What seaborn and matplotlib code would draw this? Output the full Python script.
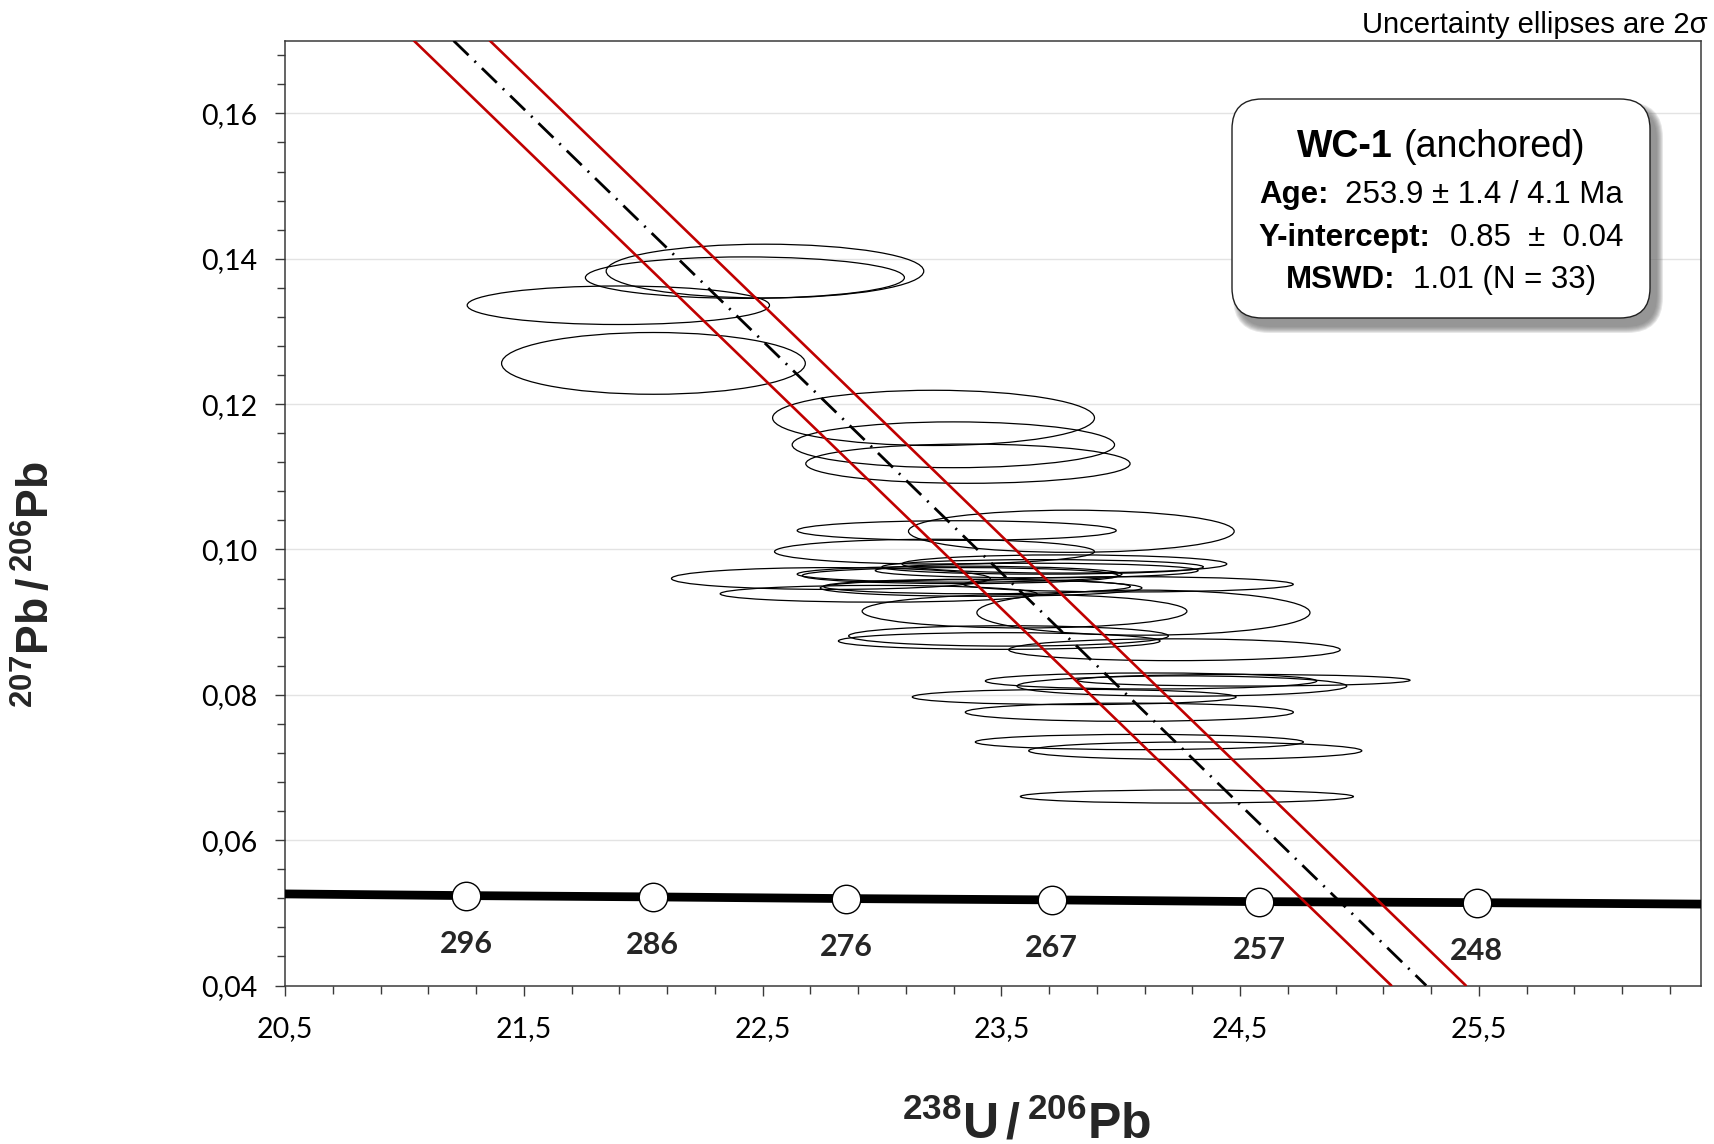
import numpy as np
import pandas as pd
import matplotlib
matplotlib.use("Agg")
import matplotlib.pyplot as plt
import seaborn as sns
from matplotlib.patches import Ellipse, FancyBboxPatch
from matplotlib.transforms import IdentityTransform
from matplotlib.offsetbox import TextArea, HPacker, AnnotationBbox
from matplotlib.ticker import FixedLocator, FixedFormatter

# ---------------- data ----------------
# uncertainty ellipses (2 sigma): centre x, centre y, full width (x), full height (y)
ell_x = [22.510, 22.426, 21.896, 22.043, 23.216, 23.299, 23.360, 23.313, 23.793, 23.220,
         22.786, 22.986, 23.325, 23.328, 23.415, 23.398, 23.648, 23.673, 23.764, 24.032,
         23.597, 24.095, 23.530, 23.491,
         24.225, 24.127, 24.514, 24.256, 23.805, 24.036, 24.078, 24.312, 24.277]
ell_y = [0.1383, 0.1374, 0.1336, 0.1256, 0.1181, 0.1144, 0.1118, 0.1026, 0.1025, 0.0997,
         0.0960, 0.0939, 0.0966, 0.0964, 0.0947, 0.0949, 0.0971, 0.0976, 0.0980, 0.0952,
         0.0915, 0.0913, 0.0881, 0.0874,
         0.0862, 0.0819, 0.0820, 0.0812, 0.0797, 0.0776, 0.0735, 0.0723, 0.0660]
ell_w = [1.330, 1.336, 1.266, 1.272, 1.348, 1.350, 1.358, 1.336, 1.364, 1.340,
         1.335, 1.327, 1.360, 1.324, 1.347, 1.285, 1.352, 1.346, 1.360, 1.381,
         1.360, 1.395, 1.339, 1.347,
         1.388, 1.388, 1.395, 1.381, 1.356, 1.374, 1.374, 1.395, 1.395]
ell_h = [0.0074, 0.0057, 0.0053, 0.0085, 0.0076, 0.0063, 0.0054, 0.0027, 0.0058, 0.0034,
         0.0030, 0.0023, 0.0022, 0.0022, 0.0023, 0.0020, 0.0020, 0.0020, 0.0025, 0.0021,
         0.0046, 0.0062, 0.0028, 0.0023,
         0.0030, 0.0022, 0.0016, 0.0028, 0.0021, 0.0025, 0.0021, 0.0024, 0.0018]

# concordia curve and age markers (Ma)
conc_x = [20.50, 21.26, 22.04, 22.85, 23.71, 24.58, 25.49, 26.43]
conc_y = [0.0526, 0.05237, 0.05219, 0.05196, 0.05178, 0.05154, 0.0514, 0.0512]
age_labels = ["296", "286", "276", "267", "257", "248"]
age_x = [21.26, 22.04, 22.85, 23.71, 24.58, 25.49]
age_y = [0.05237, 0.05219, 0.05196, 0.05178, 0.05154, 0.0514]

# anchored regression line and its 2-sigma envelope
fit_x = [21.206, 25.279]
fit_y = [0.17, 0.04]
env_lo_x = [21.040, 25.133]
env_hi_x = [21.358, 25.445]
env_y = [0.17, 0.04]

xticks = [20.5, 21.5, 22.5, 23.5, 24.5, 25.5]
xtick_labels = ["20,5", "21,5", "22,5", "23,5", "24,5", "25,5"]
yticks = [0.04, 0.06, 0.08, 0.10, 0.12, 0.14, 0.16]
ytick_labels = ["0,04", "0,06", "0,08", "0,10", "0,12", "0,14", "0,16"]

# ---------------- style ----------------
sns.set_theme(style="white")
plt.rcParams["font.family"] = ["Lato", "DejaVu Sans"]
plt.rcParams["mathtext.fontset"] = "custom"
plt.rcParams["mathtext.bf"] = "Liberation Sans:bold"
plt.rcParams["mathtext.rm"] = "Liberation Sans:bold"
plt.rcParams["mathtext.it"] = "Liberation Sans:bold"

W, H = 1715, 1144
fig = plt.figure(figsize=(W / 100, H / 100), dpi=100)
ax = fig.add_axes([285 / W, 1 - 985.5 / H, (1701 - 285) / W, (985.5 - 40.7) / H])

# grid
for yv in yticks[1:]:
    ax.axhline(yv, color="#e3e3e3", lw=1.0, zorder=0)

# ellipses
for cx, cy, w, h in zip(ell_x, ell_y, ell_w, ell_h):
    ax.add_patch(Ellipse((cx, cy), w, h, fill=False, edgecolor="black", lw=0.9, zorder=2))

# concordia
sns.lineplot(x=conc_x, y=conc_y, ax=ax, color="black", lw=6.3, zorder=3)

# envelope and regression
sns.lineplot(x=env_lo_x, y=env_y, ax=ax, color="#c00000", lw=1.9, zorder=4)
sns.lineplot(x=env_hi_x, y=env_y, ax=ax, color="#c00000", lw=1.9, zorder=4)
sns.lineplot(x=fit_x, y=fit_y, ax=ax, color="black", lw=2.0,
             linestyle=(0, (7.5, 3, 0.7, 3)), zorder=4)

# age markers
sns.scatterplot(x=age_x, y=age_y, ax=ax, marker="o", s=420, facecolor="white",
                edgecolor="black", linewidth=1.0, zorder=5)
for lab, xv, yv in zip(age_labels, age_x, age_y):
    ax.annotate(lab, (xv, yv), xytext=(0, -41), textcoords="offset points",
                ha="center", va="baseline", fontsize=22, fontweight="bold",
                family=["Lato", "DejaVu Sans"], zorder=6)

ax.set_xlim(20.5, 26.43)
ax.set_ylim(0.04, 0.17)

ax.xaxis.set_major_locator(FixedLocator(xticks))
ax.xaxis.set_major_formatter(FixedFormatter(xtick_labels))
ax.yaxis.set_major_locator(FixedLocator(yticks))
ax.yaxis.set_major_formatter(FixedFormatter(ytick_labels))
ax.xaxis.set_minor_locator(FixedLocator(np.arange(20.5, 26.41, 0.2)))
ax.yaxis.set_minor_locator(FixedLocator(np.arange(0.04, 0.1701, 0.004)))

for sp in ax.spines.values():
    sp.set_color("#3a3a3a")
    sp.set_linewidth(1.1)
ax.tick_params(axis="both", which="major", length=7.2, width=1.0, color="#3a3a3a",
               direction="out", labelsize=20.5, labelcolor="black")
ax.tick_params(axis="both", which="minor", length=5.8, width=1.0, color="#3a3a3a",
               direction="out")
ax.tick_params(axis="x", which="major", pad=15)
ax.tick_params(axis="y", which="major", pad=13)
ax.xaxis.set_ticks_position("bottom")
ax.yaxis.set_ticks_position("left")
ax.set_xlabel("")
ax.set_ylabel("")

# axis titles
fig.text(1027 / W, 1 - 1138 / H, r"$\mathbf{^{238}U\,/\,^{206}Pb}$", ha="center",
         va="baseline", fontsize=36)
fig.text(36 / W, 1 - 585 / H, r"$\mathbf{^{207}Pb\,/\,^{206}Pb}$", ha="center",
         va="center", rotation=90, fontsize=32)

# note
fig.text(1708 / W, 1 - 25 / H, "Uncertainty ellipses are 2σ", ha="right", va="center",
         fontsize=21, family=["Liberation Sans", "DejaVu Sans"], color="black")

# results box with shadow
bx0, by0, bx1, by1 = 1232, 99, 1650, 318
for k in range(7):
    sh = FancyBboxPatch((bx0 + 7, H - by1 - 9), bx1 - bx0, by1 - by0,
                        boxstyle=f"round,pad={k * 1.0},rounding_size={30 + k}",
                        transform=IdentityTransform(), facecolor="#6f6f6f",
                        edgecolor="none", alpha=0.16, zorder=8)
    fig.add_artist(sh)
box = FancyBboxPatch((bx0, H - by1), bx1 - bx0, by1 - by0,
                     boxstyle="round,pad=0,rounding_size=30",
                     transform=IdentityTransform(), facecolor="white",
                     edgecolor="#202020", lw=1.0, zorder=9)
fig.add_artist(box)


def rich_line(parts, ypix, sep):
    areas = [TextArea(s, textprops=dict(fontsize=fs, fontweight=wt, color="black",
                                        family=["Liberation Sans", "DejaVu Sans"]))
             for s, fs, wt in parts]
    pack = HPacker(children=areas, align="baseline", pad=0, sep=sep)
    ab = AnnotationBbox(pack, (1441 / W, 1 - ypix / H), xycoords="figure fraction",
                        frameon=False, box_alignment=(0.5, 0.5), zorder=10)
    fig.add_artist(ab)


rich_line([("WC-1", 27, "bold"), ("(anchored)", 27, "normal")], 147, 7.5)
rich_line([("Age:", 22.5, "bold"), ("253.9 ± 1.4 / 4.1 Ma", 22.5, "normal")], 195, 12)
rich_line([("Y-intercept:", 22.5, "bold"), ("0.85  ±  0.04", 22.5, "normal")], 238, 14)
rich_line([("MSWD:", 22.5, "bold"), ("1.01 (N = 33)", 22.5, "normal")], 280, 13)

fig.savefig("out.png", dpi=100)
